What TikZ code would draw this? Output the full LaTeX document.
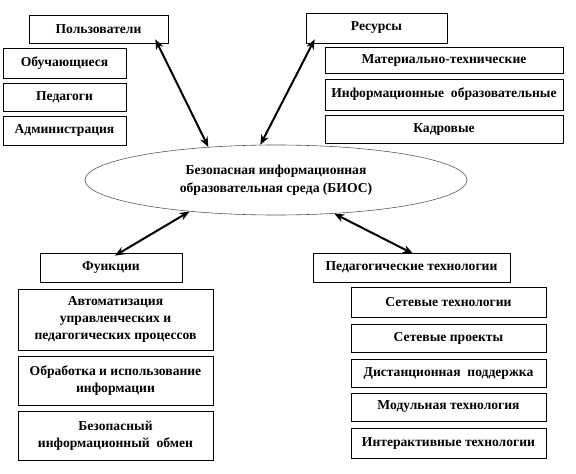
\documentclass[tikz,border=0pt]{standalone}
\usepackage{fontspec}
\setmainfont{Liberation Serif}
\usetikzlibrary{shapes.geometric,arrows.meta}
\begin{document}
\begin{tikzpicture}[x=1pt,y=-1pt,
  box/.style={draw=black,line width=0.7pt,rectangle,inner sep=0pt,align=center,
    font=\fontsize{13.6}{17}\selectfont\bfseries},
  dblarrow/.style={line width=2pt,{Stealth[length=10pt,width=8pt]}-{Stealth[length=10pt,width=8pt]}}]
\useasboundingbox (0,0) rectangle (576,474);
% users branch
\node[box,minimum width=139pt,minimum height=28pt] (users) at (98.5,29) {Пользователи};
\node[box,minimum width=123pt,minimum height=30pt] (stud) at (64.5,63) {Обучающиеся};
\node[box,minimum width=123pt,minimum height=28pt] (ped) at (64.5,97) {Педагоги};
\node[box,minimum width=123pt,minimum height=29pt] (adm) at (64.5,130.5) {Администрация};
% resources branch
\node[box,minimum width=141pt,minimum height=30pt] (res) at (376.5,28) {Ресурсы};
\node[box,minimum width=238pt,minimum height=26pt] (mat) at (444,60) {Материально-технические};
\node[box,minimum width=238pt,minimum height=31pt] (inf) at (444,94.5) {Информационные~~образовательные};
\node[box,minimum width=238pt,minimum height=28pt] (kad) at (444,129) {Кадровые};
% center
\node[ellipse,draw=black!65,line width=0.6pt,minimum width=382pt,minimum height=70pt,inner sep=0pt,
  align=center,font=\fontsize{13.6}{18}\selectfont\bfseries] (ell) at (276,180)
  {Безопасная информационная\\образовательная среда (БИОС)};
% functions branch
\node[box,minimum width=142pt,minimum height=29pt] (func) at (111,267.5) {Функции};
\node[box,minimum width=195pt,minimum height=61pt] (auto) at (115.5,319.5) {Автоматизация\\управленческих и\\педагогических процессов};
\node[box,minimum width=195pt,minimum height=49pt] (obr) at (115.5,380.5) {Обработка и использование\\информации};
\node[box,minimum width=195pt,minimum height=49pt] (bez) at (115.5,435.5) {Безопасный\\информационный~~обмен};
% pedagogical technologies branch
\node[box,minimum width=197pt,minimum height=29pt] (pedtech) at (411.5,267.5) {Педагогические технологии};
\node[box,minimum width=195pt,minimum height=30pt] (net) at (448.5,302) {Сетевые технологии};
\node[box,minimum width=195pt,minimum height=28pt] (proj) at (448.5,338) {Сетевые проекты};
\node[box,minimum width=195pt,minimum height=28pt] (dist) at (448.5,373) {Дистанционная~~поддержка};
\node[box,minimum width=195pt,minimum height=28pt] (mod) at (448.5,407) {Модульная технология};
\node[box,minimum width=195pt,minimum height=30pt] (inter) at (448.5,443) {Интерактивные технологии};
% arrows
\draw[dblarrow] ([xshift=-13pt,yshift=4pt]users.south east) -- (ell.154.7);
\draw[dblarrow] ([xshift=9pt,yshift=4pt]res.south west) -- (ell.114.6);
\draw[dblarrow] (ell.200) -- ([xshift=4pt,yshift=-3pt]func.north);
\draw[dblarrow] (ell.330.6) -- ([xshift=1.5pt,yshift=-1pt]pedtech.north);
\end{tikzpicture}
\end{document}
